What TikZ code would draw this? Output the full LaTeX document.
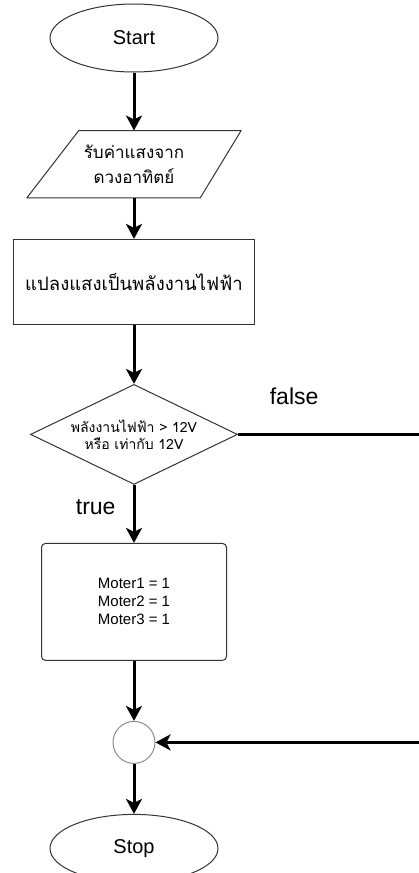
\documentclass[tikz,border=0pt]{standalone}
\usepackage{fontspec}
\setmainfont{Liberation Sans}
\newfontfamily\thaifont[Script=Thai]{Loma}
\usetikzlibrary{positioning,arrows.meta,shapes.geometric}
\tikzset{
  box/.style={draw=black!80, line width=1pt, align=center, inner sep=2pt, fill=white},
  term/.style={box, ellipse, minimum width=168pt, minimum height=68pt, font=\fontsize{20}{24}\selectfont},
  io/.style={rectangle, align=center, inner sep=2pt, minimum width=214pt, minimum height=67pt,
    font=\thaifont\fontsize{17}{25}\selectfont},
  ioline/.style={draw=black!80, line width=1pt, line join=round},
  flow/.style={-{Stealth[length=15pt, width=16pt, inset=4pt]}, line width=3pt},
  lbl/.style={font=\fontsize{23}{26}\selectfont, inner sep=0pt},
}

\begin{document}
\begin{tikzpicture}[x=1pt, y=-1pt,
  proc/.style={box, rectangle, minimum width=241pt, minimum height=85pt,
    font=\thaifont\fontsize{18.5}{25}\selectfont},
  cond/.style={box, diamond, aspect=2, minimum width=207pt, minimum height=100pt,
    inner sep=0pt, font=\thaifont\fontsize{14}{17}\selectfont},
  act/.style={box, rectangle, rounded corners=4pt, minimum width=185pt, minimum height=117pt,
    font=\fontsize{15}{18}\selectfont},
  merger/.style={draw=black!45, line width=1pt, circle, minimum size=42pt, inner sep=0pt, fill=white},
]
  \useasboundingbox (0,0) rectangle (419,873);
  \node[term] (start) at (134,38) {Start};
  \node[io, below=58pt of start] (input) {รับค่าแสงจาก\\ดวงอาทิตย์};
  % parallelogram drawn on the corners of the input box
  \draw[ioline] ([xshift=52pt]input.north west) -- (input.north east)
    -- ([xshift=-41pt]input.south east) -- (input.south west) -- cycle;
  \node[proc, below=41pt of input] (conv) {แปลงแสงเป็นพลังงานไฟฟ้า};
  \node[cond, below=59pt of conv] (check) {พลังงานไฟฟ้า > 12V\\หรือ เท่ากับ 12V};
  \node[act, below=58pt of check] (motor) {Moter1 = 1\\Moter2 = 1\\Moter3 = 1};
  \node[merger, below=60pt of motor] (merge) {};
  \node[term, below=50pt of merge] (stop) {Stop};
  \coordinate (out) at (419,0 |- check.east);
  \coordinate (back) at (419,0 |- merge.east);

  \draw[flow] (start.south) -- (input.north);
  \draw[flow] (input.south) -- (conv.north);
  \draw[flow] (conv.south) -- (check.north);
  \draw[flow] (check.south) -- node[lbl, left=17pt, pos=0.38]{true} (motor.north);
  \draw[line width=3pt] (check.east) -- node[lbl, above=28pt, pos=0.31]{false} (out);
  \draw[flow] (motor.south) -- (merge.north);
  \draw[flow] (back) -- (merge.east);
  \draw[flow] (merge.south) -- (stop.north);
\end{tikzpicture}
\end{document}
